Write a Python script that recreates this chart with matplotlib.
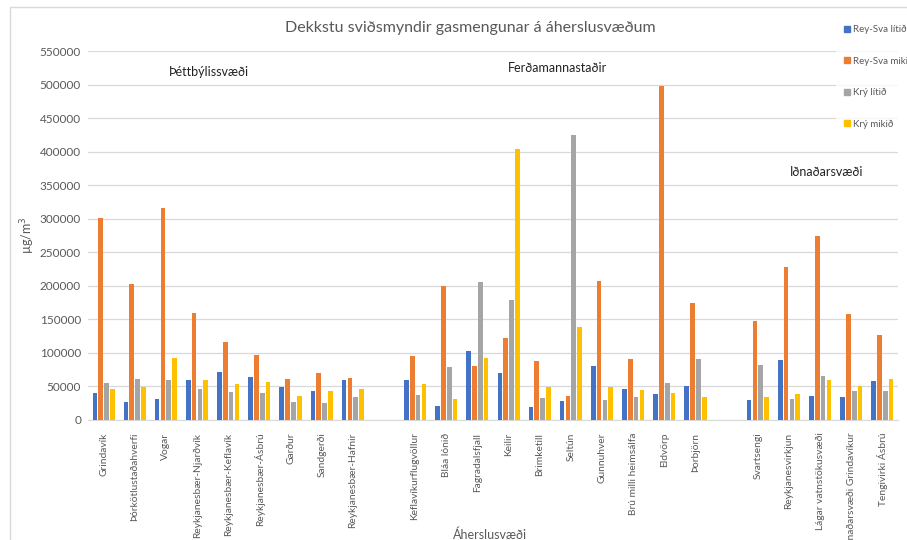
import matplotlib
matplotlib.use("Agg")
from matplotlib import pyplot as plt
from matplotlib.lines import Line2D
from matplotlib.patches import Rectangle
import numpy as np

plt.rcParams['font.family'] = ['Lato', 'DejaVu Sans']

# stations, grouped by area type
thettbyli = ['Grindavík', 'Þórkötlustaðahverfi', 'Vogar', 'Reykjanesbær-Njarðvík',
             'Reykjanesbær-Keflavík', 'Reykjanesbær-Ásbrú', 'Garður', 'Sandgerði',
             'Reykjanesbær-Hafnir']
ferdamenn = ['Keflavíkurflugvöllur', 'Bláa lónið', 'Fagradalsfjall', 'Keilir',
             'Brimketill', 'Seltún', 'Gunnuhver', 'Brú milli heimsálfa', 'Eldvörp',
             'Þorbjörn']
idnadur = ['Svartsengi', 'Reykjanesvirkjun', 'Lágar vatnstökusvæði',
           'Iðnaðarsvæði Grindavíkur', 'Tengivirki Ásbrú']

series_names = ['Rey-Sva lítið', 'Rey-Sva mikið', 'Krý lítið', 'Krý mikið']

# µg/m3
rey_sva_litid = [40000, 27000, 31000, 60000, 72000, 64500, 48700, 42700, 59000,
                 59000, 21000, 103000, 70500, 19000, 29000, 80500, 46000, 39000, 51000,
                 30000, 89400, 36000, 35000, 57600]
rey_sva_mikid = [301000, 203000, 316000, 159000, 117000, 97000, 60600, 69500, 63000,
                 95400, 200000, 80500, 121700, 87400, 35800, 206600, 91000, 498000, 174000,
                 148000, 228000, 274000, 158000, 126700]
kry_litid = [54600, 61000, 59000, 46700, 41700, 40700, 26800, 24800, 34800,
             37000, 78500, 205600, 179000, 33000, 425000, 30000, 34800, 54700, 90400,
             81500, 31000, 65600, 43700, 43700]
kry_mikid = [45700, 48700, 93000, 59000, 53000, 57000, 36000, 43000, 46700,
             53000, 31000, 92000, 404000, 49700, 139000, 49700, 45000, 40700, 33800,
             34300, 39000, 59600, 50700, 60600]

colors = ['#4472C4', '#ED7D31', '#A5A5A5', '#FFC000']
grey = '#595959'

# one empty slot between groups
groups = [thettbyli, ferdamenn, idnadur]
labels = []
pos = []
start = 0
for g in groups:
    pos += list(range(start, start + len(g)))
    labels += g
    start += len(g) + 1
pos = np.array(pos, dtype=float)

fig = plt.figure(figsize=(9.07, 5.4), dpi=100)
ax = fig.add_axes([88/907, 1 - 420/540, 810/907, 369/540])

width = 0.15
step = 0.187
for i, (vals, c) in enumerate(zip([rey_sva_litid, rey_sva_mikid, kry_litid, kry_mikid], colors)):
    ax.bar(pos + (i - 1.5) * step, vals, width=width, color=c, label=series_names[i], zorder=3)

ax.set_xlim(-0.5, start - 1.5)
ax.set_ylim(0, 550000)
ax.set_yticks(np.arange(0, 550001, 50000))
ax.yaxis.grid(True, color='#D9D9D9', lw=0.9, zorder=0)
ax.set_axisbelow(True)
for s in ['top', 'right', 'left']:
    ax.spines[s].set_visible(False)
ax.spines['bottom'].set_color('#D9D9D9')
ax.tick_params(axis='y', length=0, labelsize=8.5, labelcolor=grey, pad=5)
ax.tick_params(axis='x', length=0, labelsize=7.4, labelcolor=grey, pad=9)
ax.set_xticks(pos)
ax.set_xticklabels(labels, rotation=90)
ax.set_ylabel('µg/m$^3$', fontsize=9, color=grey, labelpad=2)

# group headings
ax.text(3.38, 518500, 'Þéttbýlissvæði', fontsize=9, ha='center', va='center', color='#222222')
ax.text(14.56, 524000, 'Ferðamannastaðir', fontsize=9, ha='center', va='center', color='#222222')
ax.text(23.2, 369500, 'Iðnaðarsvæði', fontsize=9, ha='center', va='center', color='#222222')

fig.text(0.518, 1 - 28/540, 'Dekkstu sviðsmyndir gasmengunar á áherslusvæðum',
         fontsize=11.5, color=grey, ha='center', va='center')
fig.text(490/907, 1 - 535/540, 'Áherslusvæði', fontsize=9, color=grey, ha='center', va='center')

handles = [Line2D([], [], marker='s', ls='none', color=c, markersize=5) for c in colors]
leg = fig.legend(handles, series_names, loc='upper left', bbox_to_anchor=(836/907, 1 - 19/540),
                 frameon=True, fontsize=7, labelspacing=2.3, handletextpad=0.1,
                 handlelength=1.0, borderpad=0.6, borderaxespad=0)
leg.get_frame().set_facecolor('white')
leg.get_frame().set_edgecolor('none')
for t in leg.get_texts():
    t.set_color(grey)

# chart border
fig.patches.append(Rectangle((10/907, -0.1), 1.0, 1 - 7/540 + 0.1, transform=fig.transFigure,
                             fill=False, ec='#D9D9D9', lw=1.0))

fig.savefig('out.png', dpi=100)
